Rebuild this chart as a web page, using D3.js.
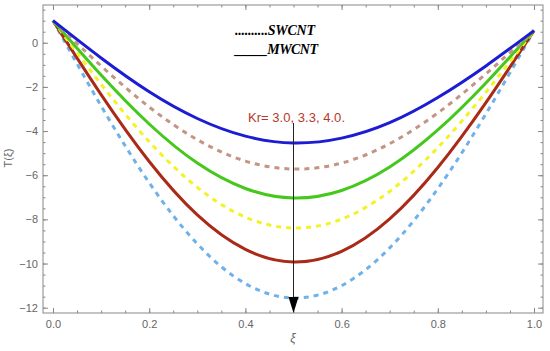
<!DOCTYPE html>
<html>
<head>
<meta charset="utf-8">
<script src="https://cdn.jsdelivr.net/npm/d3@7"></script>
<style>
  body { margin: 0; background: #fff; }
  svg { display: block; font-family: "Liberation Sans", Arial, sans-serif; }
</style>
</head>
<body>
<svg id="chart" width="550" height="351"></svg>
<script>
// values
var xi = [0, 0.1, 0.2, 0.3, 0.4, 0.5, 0.6, 0.7, 0.8, 0.9, 1.0]

var mwcnt1 = [1.00, -0.69, -2.22, -3.43, -4.23, -4.54, -4.32, -3.62, -2.48, -1.05, 0.55]
var swcnt1 = [1.00, -1.05, -2.91, -4.39, -5.36, -5.72, -5.45, -4.57, -3.18, -1.41, 0.55]
var mwcnt2 = [1.00, -1.46, -3.68, -5.45, -6.60, -7.03, -6.69, -5.63, -3.95, -1.82, 0.55]
var swcnt2 = [1.00, -1.88, -4.48, -6.55, -7.90, -8.39, -7.99, -6.73, -4.75, -2.24, 0.55]
var mwcnt3 = [1.00, -2.35, -5.38, -7.80, -9.36, -9.93, -9.45, -7.98, -5.65, -2.71, 0.55]
var swcnt3 = [1.00, -2.86, -6.34, -9.11, -10.91, -11.56, -11.00, -9.29, -6.61, -3.22, 0.55]

var xTicks = [0, 0.2, 0.4, 0.6, 0.8, 1.0]
var yTicks = [0, -2, -4, -6, -8, -10, -12]

var series = [
  { values: swcnt3, color: "#6fb2ea", dash: "5,5" },
  { values: mwcnt3, color: "#aa2a18", dash: null },
  { values: swcnt2, color: "#f2f226", dash: "5,5" },
  { values: mwcnt2, color: "#44c81c", dash: null },
  { values: swcnt1, color: "#c49484", dash: "5,5" },
  { values: mwcnt1, color: "#1c1cd2", dash: null }
]

var frame = { left: 43, right: 543, top: 5, bottom: 313 }

var x = d3.scaleLinear().domain([-0.0208, 1.0187]).range([frame.left, frame.right])
var y = d3.scaleLinear().domain([-12.24, 1.71]).range([frame.bottom, frame.top])

var svg = d3.select("#chart")

var xMinor = d3.range(0, 1.0001, 0.05)
var yMinor = d3.range(-12, 1.6, 0.5)

function styleAxis(g) {
  g.select(".domain").remove()
  g.selectAll("line").attr("stroke", "#888")
  g.selectAll("text").attr("fill", "#666").style("font-size", "11px")
}

// bottom
svg.append("g").attr("transform", "translate(0," + frame.bottom + ")")
  .call(d3.axisBottom(x).tickValues(xMinor).tickSize(-2.5).tickFormat(""))
  .call(styleAxis)
svg.append("g").attr("transform", "translate(0," + frame.bottom + ")")
  .call(d3.axisBottom(x).tickValues(xTicks).tickSize(-5).tickPadding(7).tickFormat(d3.format(".1f")))
  .call(styleAxis)
// top
svg.append("g").attr("transform", "translate(0," + frame.top + ")")
  .call(d3.axisTop(x).tickValues(xMinor).tickSize(-2.5).tickFormat(""))
  .call(styleAxis)
svg.append("g").attr("transform", "translate(0," + frame.top + ")")
  .call(d3.axisTop(x).tickValues(xTicks).tickSize(-5).tickFormat(""))
  .call(styleAxis)
// left
svg.append("g").attr("transform", "translate(" + frame.left + ",0)")
  .call(d3.axisLeft(y).tickValues(yMinor).tickSize(-2.5).tickFormat(""))
  .call(styleAxis)
svg.append("g").attr("transform", "translate(" + frame.left + ",0)")
  .call(d3.axisLeft(y).tickValues(yTicks).tickSize(-5).tickPadding(5))
  .call(styleAxis)
// right
svg.append("g").attr("transform", "translate(" + frame.right + ",0)")
  .call(d3.axisRight(y).tickValues(yMinor).tickSize(-2.5).tickFormat(""))
  .call(styleAxis)
svg.append("g").attr("transform", "translate(" + frame.right + ",0)")
  .call(d3.axisRight(y).tickValues(yTicks).tickSize(-5).tickFormat(""))
  .call(styleAxis)

svg.append("rect")
  .attr("x", frame.left).attr("y", frame.top)
  .attr("width", frame.right - frame.left).attr("height", frame.bottom - frame.top)
  .attr("fill", "none").attr("stroke", "#888").attr("stroke-width", 1)

var line = d3.line()
  .x(function(d, i) { return x(xi[i]) })
  .y(function(d) { return y(d) })
  .curve(d3.curveNatural)

svg.selectAll(".curve")
  .data(series)
  .enter()
  .append("path")
  .attr("class", "curve")
  .attr("d", function(d) { return line(d.values) })
  .attr("fill", "none")
  .attr("stroke", function(d) { return d.color })
  .attr("stroke-width", 3)
  .attr("stroke-dasharray", function(d) { return d.dash })

// arrow
svg.append("line")
  .attr("x1", x(0.5)).attr("x2", x(0.5))
  .attr("y1", 123).attr("y2", 300)
  .attr("stroke", "#222").attr("stroke-width", 1)
svg.append("path")
  .attr("d", "M" + (x(0.5) - 5) + ",297 L" + (x(0.5) + 5) + ",297 L" + x(0.5) + ",313 Z")
  .attr("fill", "#000")

svg.append("text")
  .attr("x", 248).attr("y", 122)
  .style("font-size", "13px")
  .attr("fill", "#b5382a")
  .attr("textLength", 97)
  .text("Kr= 3.0, 3.3, 4.0.")

// legend
svg.append("text")
  .attr("x", 235).attr("y", 35)
  .style("font-family", "'Liberation Serif', 'Times New Roman', serif")
  .style("font-weight", "bold").style("font-style", "italic")
  .style("font-size", "14px")
  .attr("textLength", 80)
  .text("..........SWCNT")
svg.append("text")
  .attr("x", 235).attr("y", 54)
  .style("font-family", "'Liberation Serif', 'Times New Roman', serif")
  .style("font-weight", "bold").style("font-style", "italic")
  .style("font-size", "14px")
  .attr("textLength", 83)
  .text("_____MWCNT")

// axis titles
svg.append("text")
  .attr("x", 293).attr("y", 342)
  .attr("text-anchor", "middle")
  .style("font-size", "12px").style("font-style", "italic")
  .attr("fill", "#666")
  .text("ξ")
svg.append("text")
  .attr("transform", "translate(12,158) rotate(-90)")
  .attr("text-anchor", "middle")
  .style("font-size", "11px")
  .attr("fill", "#666")
  .text("T(ξ)")
</script>
</body>
</html>
